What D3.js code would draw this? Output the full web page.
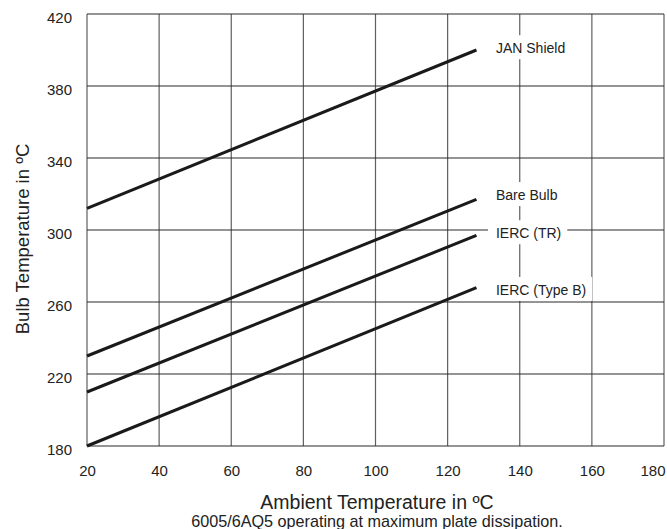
<!DOCTYPE html>
<html><head><meta charset="utf-8">
<script src="https://cdn.jsdelivr.net/npm/d3@7/dist/d3.min.js"></script>
<style>body{margin:0;background:#fff;} svg{display:block;font-family:"Liberation Sans",Arial,sans-serif;}</style>
</head><body>
<svg id="chart" width="667" height="529"></svg>
<script>
const xTicks = [20, 40, 60, 80, 100, 120, 140, 160, 180];
const yTicks = [180, 220, 260, 300, 340, 380, 420];
const seriesNames = ["JAN Shield", "Bare Bulb", "IERC (TR)", "IERC (Type B)"];
const xStart = [20, 20, 20, 20];
const xEnd = [128, 128, 128, 128];
const yStart = [312, 230, 210, 180];
const yEnd = [400, 317, 297, 268];
const labelX = [133.4, 133.4, 133.4, 133.4];
const labelY = [401, 319.4, 298.2, 266.7];
const xTitle = "Ambient Temperature in ºC";
const yTitle = "Bulb Temperature in ºC";
const caption = "6005/6AQ5 operating at maximum plate dissipation.";

const svg = d3.select("#chart");
const L = 87, R = 664, T = 14, B = 446;
const x = d3.scaleLinear().domain([20, 180]).range([L, R]);
const y = d3.scaleLinear().domain([180, 420]).range([B, T]);
const FF = "Liberation Sans, Arial, sans-serif";

// grid
svg.append("g").selectAll("line").data(xTicks).join("line")
  .attr("x1", d => x(d)).attr("x2", d => x(d)).attr("y1", T).attr("y2", B)
  .attr("stroke", "#5f5f5f").attr("stroke-width", 1.2);
svg.append("g").selectAll("line").data(yTicks).join("line")
  .attr("x1", L).attr("x2", R).attr("y1", d => y(d)).attr("y2", d => y(d))
  .attr("stroke", "#2a2a2a").attr("stroke-width", 1.2);

// axes tick labels
const xAxis = svg.append("g").attr("transform", `translate(0,${B})`)
  .call(d3.axisBottom(x).tickValues(xTicks).tickSize(0).tickPadding(19));
xAxis.select(".domain").remove();
xAxis.selectAll("text").attr("font-size", 15).attr("fill", "#222").attr("font-family", FF);
xAxis.selectAll(".tick").filter(d => d === 180).select("text")
  .attr("text-anchor", "end").attr("x", 1);
const yAxis = svg.append("g").attr("transform", `translate(${L},0)`)
  .call(d3.axisLeft(y).tickValues(yTicks).tickSize(0).tickPadding(15));
yAxis.select(".domain").remove();
yAxis.selectAll("text").attr("font-size", 15).attr("fill", "#222").attr("font-family", FF)
  .attr("dy", "0.55em");

// series lines
const data = seriesNames.map((n, i) => ({name: n, pts: [[xStart[i], yStart[i]], [xEnd[i], yEnd[i]]], lx: labelX[i], ly: labelY[i]}));
const line = d3.line().x(d => x(d[0])).y(d => y(d[1]));
svg.append("g").selectAll("path").data(data).join("path")
  .attr("d", d => line(d.pts)).attr("fill", "none").attr("stroke", "#1a1a1a").attr("stroke-width", 3);

// labels with white background
const lg = svg.append("g").selectAll("g").data(data).join("g");
lg.each(function(d) {
  const g = d3.select(this);
  const cy = y(d.ly);
  const t = g.append("text").attr("x", x(d.lx)).attr("y", cy).attr("dy", "0.36em")
    .attr("font-size", 14).attr("fill", "#222").attr("font-family", FF).text(d.name);
  const bb = t.node().getBBox();
  g.insert("rect", "text").attr("x", bb.x - 8).attr("y", cy - 13).attr("width", bb.width + 14).attr("height", 24)
    .attr("fill", "#fff");
});

// titles
svg.append("text").attr("x", 377).attr("y", 502).attr("dy", "0.36em").attr("text-anchor", "middle")
  .attr("font-size", 19.5).attr("fill", "#222").attr("font-family", FF).text(xTitle);
svg.append("text").attr("x", 377).attr("y", 521).attr("dy", "0.36em").attr("text-anchor", "middle")
  .attr("font-size", 16.2).attr("fill", "#222").attr("font-family", FF).text(caption);
svg.append("text").attr("transform", `translate(22,239) rotate(-90)`).attr("dy", "0.36em")
  .attr("text-anchor", "middle").attr("font-size", 18.5).attr("fill", "#222").attr("font-family", FF).text(yTitle);
</script>
</body></html>
